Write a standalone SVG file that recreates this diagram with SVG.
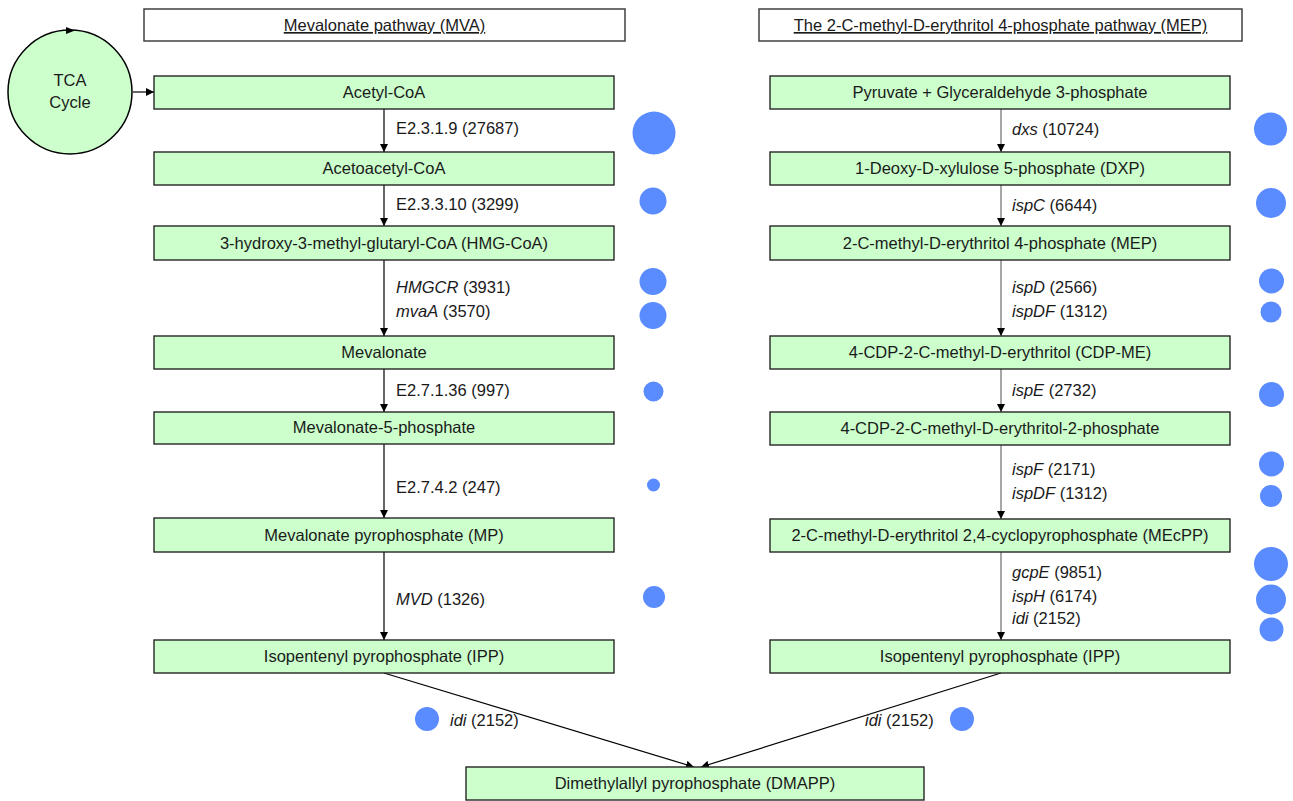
<svg xmlns="http://www.w3.org/2000/svg" width="1293" height="801" viewBox="0 0 1293 801">
<defs>
<marker id="arr" viewBox="0 0 10 10" refX="10" refY="5" markerWidth="8" markerHeight="8" markerUnits="userSpaceOnUse" orient="auto">
<path d="M0,0 L10,5 L0,10 z" fill="#000"/>
</marker>
<style>
text{font-family:"Liberation Sans",Arial,sans-serif;font-size:16.5px;fill:#1a1a1a}
.c{text-anchor:middle}
.hdr{fill:#fff;stroke:#404040;stroke-width:1.5}
.box{fill:#ccffcc;stroke:#262626;stroke-width:1.4}
.dot{fill:#5a8cff}
.ln{stroke:#000;stroke-width:1.2;fill:none;marker-end:url(#arr)}
.lg{stroke:#808080;stroke-width:1.4;fill:none;marker-end:url(#arr)}
.u{text-decoration:underline}
.i{font-style:italic}
</style>
</defs>
<rect width="1293" height="801" fill="#fff"/>

<g id="hdr-mva"><rect class="hdr" x="144" y="9" width="481" height="32"/><text class="c u" x="384.5" y="31">Mevalonate pathway (MVA)</text></g>
<g id="hdr-mep"><rect class="hdr" x="759" y="9" width="483" height="32"/><text class="c u" x="1000.5" y="31">The 2-C-methyl-D-erythritol 4-phosphate pathway (MEP)</text></g>

<g id="tca"><circle cx="70" cy="92" r="62" fill="#ccffcc" stroke="#000" stroke-width="1.5"/><path d="M66,27 L75,30.5 L66,34 z" fill="#000"/><text class="c" x="70" y="86">TCA</text><text class="c" x="70" y="108">Cycle</text></g>

<g id="connectors">
<line class="ln" x1="133" y1="92" x2="154" y2="92"/>
<line class="ln" x1="384" y1="109" x2="384" y2="152"/>
<line class="ln" x1="384" y1="185" x2="384" y2="226"/>
<line class="ln" x1="384" y1="260" x2="384" y2="336"/>
<line class="ln" x1="384" y1="369" x2="384" y2="412"/>
<line class="ln" x1="384" y1="444" x2="384" y2="518"/>
<line class="ln" x1="384" y1="552" x2="384" y2="640"/>
<line class="lg" x1="1001" y1="109" x2="1001" y2="152"/>
<line class="lg" x1="1001" y1="185" x2="1001" y2="226"/>
<line class="lg" x1="1001" y1="260" x2="1001" y2="336"/>
<line class="lg" x1="1001" y1="369" x2="1001" y2="412"/>
<line class="lg" x1="1001" y1="444" x2="1001" y2="519"/>
<line class="lg" x1="1001" y1="552" x2="1001" y2="640"/>
<line class="ln" x1="384" y1="673" x2="694" y2="767"/>
<line class="ln" x1="1001" y1="673" x2="701" y2="767"/>
</g>

<g id="n-acetylcoa"><rect class="box" x="154" y="76" width="460" height="33"/><text class="c" x="384" y="98">Acetyl-CoA</text></g>
<g id="n-acetoacetylcoa"><rect class="box" x="154" y="152" width="460" height="33"/><text class="c" x="384" y="174">Acetoacetyl-CoA</text></g>
<g id="n-hmgcoa"><rect class="box" x="154" y="226" width="460" height="34"/><text class="c" x="384" y="249">3-hydroxy-3-methyl-glutaryl-CoA (HMG-CoA)</text></g>
<g id="n-mevalonate"><rect class="box" x="154" y="336" width="460" height="33"/><text class="c" x="384" y="358">Mevalonate</text></g>
<g id="n-mev5p"><rect class="box" x="154" y="412" width="460" height="32"/><text class="c" x="384" y="433">Mevalonate-5-phosphate</text></g>
<g id="n-mp"><rect class="box" x="154" y="518" width="460" height="34"/><text class="c" x="384" y="541">Mevalonate pyrophosphate (MP)</text></g>
<g id="n-ipp-l"><rect class="box" x="154" y="640" width="460" height="33"/><text class="c" x="384" y="662">Isopentenyl pyrophosphate (IPP)</text></g>

<g id="n-pyr"><rect class="box" x="770" y="76" width="460" height="33"/><text class="c" x="1000" y="98">Pyruvate + Glyceraldehyde 3-phosphate</text></g>
<g id="n-dxp"><rect class="box" x="770" y="152" width="460" height="33"/><text class="c" x="1000" y="174">1-Deoxy-D-xylulose 5-phosphate (DXP)</text></g>
<g id="n-mep"><rect class="box" x="770" y="226" width="460" height="34"/><text class="c" x="1000" y="249">2-C-methyl-D-erythritol 4-phosphate (MEP)</text></g>
<g id="n-cdpme"><rect class="box" x="770" y="336" width="460" height="33"/><text class="c" x="1000" y="358">4-CDP-2-C-methyl-D-erythritol (CDP-ME)</text></g>
<g id="n-cdpme2p"><rect class="box" x="770" y="412" width="460" height="33"/><text class="c" x="1000" y="434">4-CDP-2-C-methyl-D-erythritol-2-phosphate</text></g>
<g id="n-mecpp"><rect class="box" x="770" y="519" width="460" height="33"/><text class="c" x="1000" y="541">2-C-methyl-D-erythritol 2,4-cyclopyrophosphate (MEcPP)</text></g>
<g id="n-ipp-r"><rect class="box" x="770" y="640" width="460" height="33"/><text class="c" x="1000" y="662">Isopentenyl pyrophosphate (IPP)</text></g>

<g id="n-dmapp"><rect class="box" x="466" y="767" width="458" height="33"/><text class="c" x="695" y="789">Dimethylallyl pyrophosphate (DMAPP)</text></g>

<g id="labels-mva">
<text x="396" y="134">E2.3.1.9 (27687)</text>
<text x="396" y="210">E2.3.3.10 (3299)</text>
<text x="396" y="293"><tspan class="i">HMGCR</tspan> (3931)</text>
<text x="396" y="317"><tspan class="i">mvaA</tspan> (3570)</text>
<text x="396" y="396">E2.7.1.36 (997)</text>
<text x="396" y="493">E2.7.4.2 (247)</text>
<text x="396" y="605"><tspan class="i">MVD</tspan> (1326)</text>
<text x="450" y="726"><tspan class="i">idi</tspan> (2152)</text>
</g>
<g id="labels-mep">
<text x="1012" y="135"><tspan class="i">dxs</tspan> (10724)</text>
<text x="1012" y="211"><tspan class="i">ispC</tspan> (6644)</text>
<text x="1012" y="293"><tspan class="i">ispD</tspan> (2566)</text>
<text x="1012" y="317"><tspan class="i">ispDF</tspan> (1312)</text>
<text x="1012" y="396"><tspan class="i">ispE</tspan> (2732)</text>
<text x="1012" y="475"><tspan class="i">ispF</tspan> (2171)</text>
<text x="1012" y="499"><tspan class="i">ispDF</tspan> (1312)</text>
<text x="1012" y="578"><tspan class="i">gcpE</tspan> (9851)</text>
<text x="1012" y="602"><tspan class="i">ispH</tspan> (6174)</text>
<text x="1012" y="624"><tspan class="i">idi</tspan> (2152)</text>
<text x="865" y="726"><tspan class="i">idi</tspan> (2152)</text>
</g>

<g id="dots">
<circle class="dot" cx="654" cy="133" r="21.5"/>
<circle class="dot" cx="653" cy="201" r="13.5"/>
<circle class="dot" cx="653" cy="281.5" r="13.5"/>
<circle class="dot" cx="653" cy="315.5" r="13.5"/>
<circle class="dot" cx="653.5" cy="391.5" r="10"/>
<circle class="dot" cx="653.5" cy="485" r="6.5"/>
<circle class="dot" cx="654" cy="597" r="11"/>
<circle class="dot" cx="427" cy="719" r="12"/>
<circle class="dot" cx="1270.5" cy="129" r="16.5"/>
<circle class="dot" cx="1271" cy="203" r="15"/>
<circle class="dot" cx="1271.5" cy="281" r="12.5"/>
<circle class="dot" cx="1271" cy="312" r="10.5"/>
<circle class="dot" cx="1271.5" cy="394.5" r="12.5"/>
<circle class="dot" cx="1271.5" cy="464" r="12.5"/>
<circle class="dot" cx="1271" cy="496" r="11"/>
<circle class="dot" cx="1271" cy="564" r="17"/>
<circle class="dot" cx="1271" cy="599.5" r="15"/>
<circle class="dot" cx="1271.5" cy="629.5" r="12"/>
<circle class="dot" cx="962" cy="719" r="12"/>
</g>
</svg>
